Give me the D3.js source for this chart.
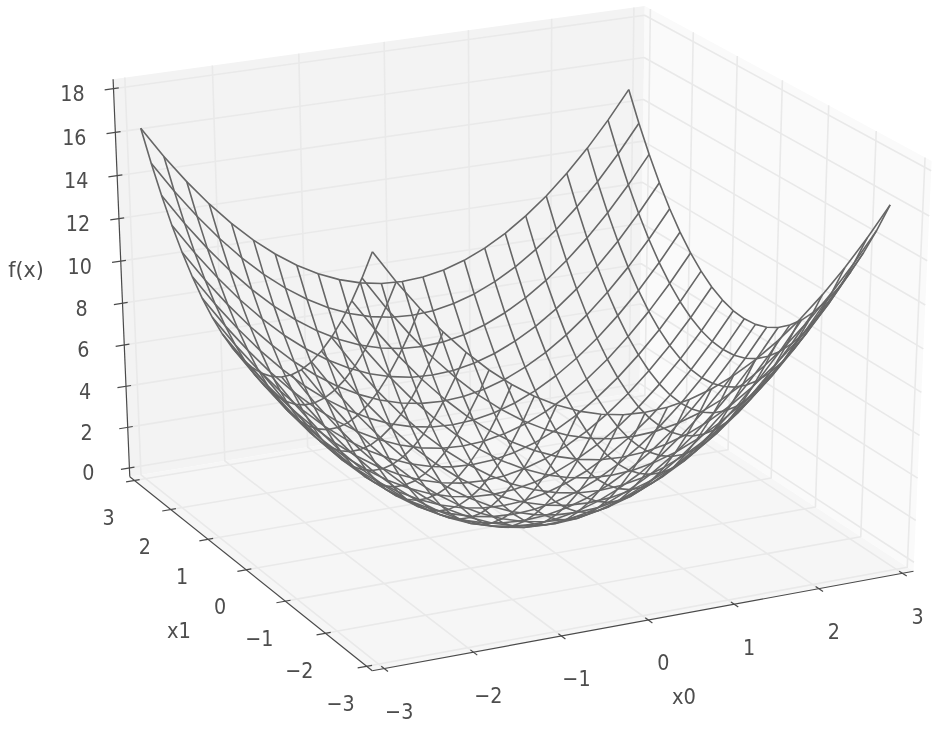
<!DOCTYPE html>
<html><head><meta charset="utf-8">
<script src="https://d3js.org/d3.v7.min.js"></script>
<style>html,body{margin:0;padding:0;background:#fff}svg{display:block;filter:blur(0.55px)}</style>
</head><body><svg id="c" width="946" height="742"></svg>
<script>
const x0Values=[-3,-2.75,-2.5,-2.25,-2,-1.75,-1.5,-1.25,-1,-0.75,-0.5,-0.25,0,0.25,0.5,0.75,1,1.25,1.5,1.75,2,2.25,2.5,2.75];
const x1Values=[-3,-2.75,-2.5,-2.25,-2,-1.75,-1.5,-1.25,-1,-0.75,-0.5,-0.25,0,0.25,0.5,0.75,1,1.25,1.5,1.75,2,2.25,2.5,2.75];
const fValues=[
[18,16.56,15.25,14.06,13,12.06,11.25,10.56,10,9.56,9.25,9.06,9,9.06,9.25,9.56,10,10.56,11.25,12.06,13,14.06,15.25,16.56],
[16.56,15.12,13.81,12.62,11.56,10.62,9.81,9.12,8.56,8.12,7.81,7.62,7.56,7.62,7.81,8.12,8.56,9.12,9.81,10.62,11.56,12.62,13.81,15.12],
[15.25,13.81,12.5,11.31,10.25,9.31,8.5,7.81,7.25,6.81,6.5,6.31,6.25,6.31,6.5,6.81,7.25,7.81,8.5,9.31,10.25,11.31,12.5,13.81],
[14.06,12.62,11.31,10.12,9.06,8.12,7.31,6.62,6.06,5.62,5.31,5.12,5.06,5.12,5.31,5.62,6.06,6.62,7.31,8.12,9.06,10.12,11.31,12.62],
[13,11.56,10.25,9.06,8,7.06,6.25,5.56,5,4.56,4.25,4.06,4,4.06,4.25,4.56,5,5.56,6.25,7.06,8,9.06,10.25,11.56],
[12.06,10.62,9.31,8.12,7.06,6.12,5.31,4.62,4.06,3.62,3.31,3.12,3.06,3.12,3.31,3.62,4.06,4.62,5.31,6.12,7.06,8.12,9.31,10.62],
[11.25,9.81,8.5,7.31,6.25,5.31,4.5,3.81,3.25,2.81,2.5,2.31,2.25,2.31,2.5,2.81,3.25,3.81,4.5,5.31,6.25,7.31,8.5,9.81],
[10.56,9.12,7.81,6.62,5.56,4.62,3.81,3.12,2.56,2.12,1.81,1.62,1.56,1.62,1.81,2.12,2.56,3.12,3.81,4.62,5.56,6.62,7.81,9.12],
[10,8.56,7.25,6.06,5,4.06,3.25,2.56,2,1.56,1.25,1.06,1,1.06,1.25,1.56,2,2.56,3.25,4.06,5,6.06,7.25,8.56],
[9.56,8.12,6.81,5.62,4.56,3.62,2.81,2.12,1.56,1.12,0.81,0.62,0.56,0.62,0.81,1.12,1.56,2.12,2.81,3.62,4.56,5.62,6.81,8.12],
[9.25,7.81,6.5,5.31,4.25,3.31,2.5,1.81,1.25,0.81,0.5,0.31,0.25,0.31,0.5,0.81,1.25,1.81,2.5,3.31,4.25,5.31,6.5,7.81],
[9.06,7.62,6.31,5.12,4.06,3.12,2.31,1.62,1.06,0.62,0.31,0.12,0.06,0.12,0.31,0.62,1.06,1.62,2.31,3.12,4.06,5.12,6.31,7.62],
[9,7.56,6.25,5.06,4,3.06,2.25,1.56,1,0.56,0.25,0.06,0,0.06,0.25,0.56,1,1.56,2.25,3.06,4,5.06,6.25,7.56],
[9.06,7.62,6.31,5.12,4.06,3.12,2.31,1.62,1.06,0.62,0.31,0.12,0.06,0.12,0.31,0.62,1.06,1.62,2.31,3.12,4.06,5.12,6.31,7.62],
[9.25,7.81,6.5,5.31,4.25,3.31,2.5,1.81,1.25,0.81,0.5,0.31,0.25,0.31,0.5,0.81,1.25,1.81,2.5,3.31,4.25,5.31,6.5,7.81],
[9.56,8.12,6.81,5.62,4.56,3.62,2.81,2.12,1.56,1.12,0.81,0.62,0.56,0.62,0.81,1.12,1.56,2.12,2.81,3.62,4.56,5.62,6.81,8.12],
[10,8.56,7.25,6.06,5,4.06,3.25,2.56,2,1.56,1.25,1.06,1,1.06,1.25,1.56,2,2.56,3.25,4.06,5,6.06,7.25,8.56],
[10.56,9.12,7.81,6.62,5.56,4.62,3.81,3.12,2.56,2.12,1.81,1.62,1.56,1.62,1.81,2.12,2.56,3.12,3.81,4.62,5.56,6.62,7.81,9.12],
[11.25,9.81,8.5,7.31,6.25,5.31,4.5,3.81,3.25,2.81,2.5,2.31,2.25,2.31,2.5,2.81,3.25,3.81,4.5,5.31,6.25,7.31,8.5,9.81],
[12.06,10.62,9.31,8.12,7.06,6.12,5.31,4.62,4.06,3.62,3.31,3.12,3.06,3.12,3.31,3.62,4.06,4.62,5.31,6.12,7.06,8.12,9.31,10.62],
[13,11.56,10.25,9.06,8,7.06,6.25,5.56,5,4.56,4.25,4.06,4,4.06,4.25,4.56,5,5.56,6.25,7.06,8,9.06,10.25,11.56],
[14.06,12.62,11.31,10.12,9.06,8.12,7.31,6.62,6.06,5.62,5.31,5.12,5.06,5.12,5.31,5.62,6.06,6.62,7.31,8.12,9.06,10.12,11.31,12.62],
[15.25,13.81,12.5,11.31,10.25,9.31,8.5,7.81,7.25,6.81,6.5,6.31,6.25,6.31,6.5,6.81,7.25,7.81,8.5,9.31,10.25,11.31,12.5,13.81],
[16.56,15.12,13.81,12.62,11.56,10.62,9.81,9.12,8.56,8.12,7.81,7.62,7.56,7.62,7.81,8.12,8.56,9.12,9.81,10.62,11.56,12.62,13.81,15.12]];
const x0Ticks=[-3,-2,-1,0,1,2,3];
const x1Ticks=[-3,-2,-1,0,1,2,3];
const fTicks=[0,2,4,6,8,10,12,14,16,18];
const axisLabels=['x0','x1','f(x)'];

// Camera fitted to the reference: a perspective view of the unit cube
const elev=25.703, azim=-116.223, dist=9.992;
const lim=3.133, zMargin=0.432, zl=-zMargin, zh=18+zMargin;
const horiz=d3.scaleLinear().domain([-lim,lim]).range([0,1]);
const vert=d3.scaleLinear().domain([zl,zh]).range([0,1]);
const screenX=d3.scaleLinear().domain([0,1]).range([513.779,513.779+5973.21]);
const screenY=d3.scaleLinear().domain([0,1]).range([325.528,325.528-4476.022]);
const el=elev*Math.PI/180, az=azim*Math.PI/180;
const n=[Math.cos(el)*Math.cos(az),Math.cos(el)*Math.sin(az),Math.sin(el)];
const u=[-Math.sin(az),Math.cos(az),0];
const v=[-Math.sin(el)*Math.cos(az),-Math.sin(el)*Math.sin(az),Math.cos(el)];
function P(a,b,c){
  const q=[horiz(a)-.5,horiz(b)-.5,vert(c)-.5];
  const dot=w=>w[0]*q[0]+w[1]*q[1]+w[2]*q[2];
  const d=dist-dot(n);
  return [screenX(dot(u)/d),screenY(dot(v)/d)];
}
const line=d3.line().x(d=>d[0]).y(d=>d[1]);
const svg=d3.select('#c');
const path=(pts,col,w,fill)=>svg.append('path')
  .attr('d',line(pts.map(q=>P(...q)))+(fill?'Z':''))
  .attr('fill',fill||'none').attr('stroke',col).attr('stroke-width',w).attr('stroke-linejoin','round');
// panes
path([[-lim,lim,zl],[lim,lim,zl],[lim,lim,zh],[-lim,lim,zh]],'none',0,'#f3f3f3');
path([[lim,lim,zl],[lim,-lim,zl],[lim,-lim,zh],[lim,lim,zh]],'none',0,'#fafafa');
path([[-lim,-lim,zl],[lim,-lim,zl],[lim,lim,zl],[-lim,lim,zl]],'none',0,'#f6f6f6');
// grid
const grid='#e9e9e9';
x0Ticks.forEach(t=>path([[t,-lim,zl],[t,lim,zl],[t,lim,zh]],grid,1.6));
x1Ticks.forEach(t=>path([[-lim,t,zl],[lim,t,zl],[lim,t,zh]],grid,1.6));
fTicks.forEach(t=>path([[-lim,lim,t],[lim,lim,t],[lim,-lim,t]],grid,1.6));
// axes
const ax='#4a4a4a';
path([[-lim,-lim,zl],[lim,-lim,zl]],ax,1.2);
path([[-lim,-lim,zl],[-lim,lim,zl]],ax,1.2);
path([[-lim,lim,zl],[-lim,lim,zh]],ax,1.2);
x0Ticks.forEach(t=>path([[t,-lim+.07,zl],[t,-lim-.09,zl]],ax,1.2));
x1Ticks.forEach(t=>path([[-lim+.06,t,zl],[-lim-.1,t,zl]],ax,1.2));
fTicks.forEach(t=>path([[-lim+.06,lim,t],[-lim-.1,lim,t]],ax,1.2));
// wireframe
const wire='#666666';
x0Values.forEach((a,i)=>path(x1Values.map((b,j)=>[a,b,fValues[i][j]]),wire,1.6));
x1Values.forEach((b,j)=>path(x0Values.map((a,i)=>[a,b,fValues[i][j]]),wire,1.6));
// text
const txt=(s,x,y,size,sx)=>svg.append('text')
  .attr('transform',`translate(${x},${y}) scale(${sx},1)`)
  .attr('text-anchor','middle').attr('dominant-baseline','central')
  .attr('font-family','DejaVu Sans').attr('font-size',size).attr('fill','#4d4d4d').text(s);
const fmt=t=>t<0?'\u2212'+(-t):''+t;
x0Ticks.forEach(t=>{const q=P(t,-lim,zl);txt(fmt(t),q[0]+15,q[1]+43,22,.87);});
x1Ticks.forEach(t=>{const q=P(-lim,t,zl);txt(fmt(t),q[0]-26,q[1]+37,22,.87);});
fTicks.forEach(t=>{const q=P(-lim,lim,t);txt(''+t,q[0]-41,q[1]+5,22,.87);});
txt(axisLabels[0],684,697,21,.93);
txt(axisLabels[1],179,631,21,.93);
txt(axisLabels[2],26,270,21,.98);
</script></body></html>
